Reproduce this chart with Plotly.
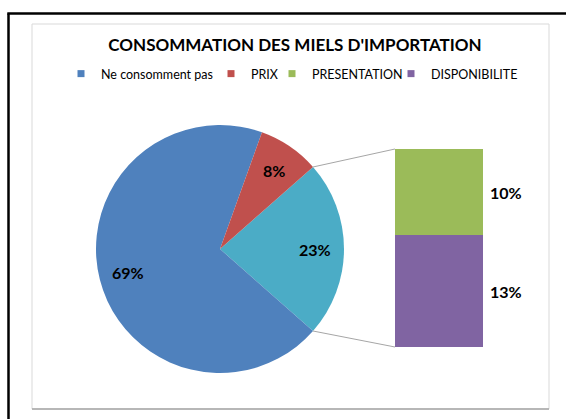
import math
import plotly.graph_objects as go

# ---- data ----
title_text = "CONSOMMATION DES MIELS D'IMPORTATION"
pie_labels = ["Autre", "Ne consomment pas", "PRIX"]
pie_values = [23, 69, 8]
pie_colors = ["#4BACC6", "#4F81BD", "#C0504D"]
bar_labels = ["DISPONIBILITE", "PRESENTATION"]      # bottom -> top
bar_values = [13, 10]
bar_colors = ["#8064A2", "#9BBB59"]
legend_labels = ["Ne consomment pas", "PRIX", "PRESENTATION", "DISPONIBILITE"]
legend_colors = ["#4F81BD", "#C0504D", "#9BBB59", "#8064A2"]

W, H = 566, 419
FONT = "Lato"

def fx(x):
    return x / W

def fy(y):
    return 1 - y / H

# layout geometry (pixels)
pcx, pcy, pr = 220, 249, 124
bx0, bx1, by0, by1 = 395, 483, 149, 347
legend_sq_x = [88, 238, 299, 418]   # legend symbol positions
legend_y = 74

total = sum(pie_values)
other_share = pie_values[0] / total
rotation = 90 - 360 * other_share / 2

fig = go.Figure()

fig.add_trace(go.Pie(
    labels=pie_labels, values=pie_values, sort=False,
    direction="clockwise", rotation=rotation,
    marker=dict(colors=pie_colors, line=dict(width=0)),
    textinfo="none",
    domain=dict(x=[fx(pcx - pr), fx(pcx + pr)], y=[fy(pcy + pr), fy(pcy - pr)]),
    showlegend=False, hoverinfo="label+percent",
))

cat = ["Autre"]
for lab, val, col in zip(bar_labels, bar_values, bar_colors):
    fig.add_trace(go.Bar(x=cat, y=[val], name=lab, marker=dict(color=col, line=dict(width=0)),
                         showlegend=False, xaxis="x", yaxis="y"))

legend_names = ["legend", "legend2", "legend3", "legend4"]
for lab, col, lg in zip(legend_labels, legend_colors, legend_names):
    fig.add_trace(go.Scatter(x=[None], y=[None], mode="markers", name=lab, legend=lg,
                             marker=dict(symbol="square", size=7, color=col),
                             xaxis="x", yaxis="y"))

annotations = []
# pie percentage labels
cum = 0
rr = 0.77 * pr
for val in pie_values:
    mid = cum + val / 2
    theta = math.radians(rotation + 360 * mid / total)
    px = pcx + rr * math.sin(theta)
    py = pcy - rr * math.cos(theta)
    annotations.append(dict(x=fx(px), y=fy(py), xref="paper", yref="paper",
                            text=f"<b>{round(100 * val / total)}%</b>", showarrow=False,
                            xanchor="center", yanchor="middle",
                            font=dict(family=FONT, size=16, color="#000000")))
    cum += val

# bar labels
bar_total = sum(bar_values)
cum = 0
for val in bar_values:
    annotations.append(dict(x=0.5, y=cum + val / 2, xref="x", yref="y", text=f"<b>{val}%</b>",
                            showarrow=False, xanchor="left", yanchor="middle", xshift=5,
                            font=dict(family=FONT, size=16, color="#000000")))
    cum += val

# connector points on the pie
half = math.radians(360 * other_share / 2)
up_pt = (pcx + pr * math.cos(half), pcy - pr * math.sin(half))
dn_pt = (pcx + pr * math.cos(half), pcy + pr * math.sin(half))

shapes = [
    # outer dark frame
    dict(type="line", xref="paper", yref="paper", x0=fx(8.5), y0=0, x1=fx(8.5), y1=fy(13.5),
         line=dict(color="#000000", width=2.5)),
    dict(type="line", xref="paper", yref="paper", x0=fx(7.3), y0=fy(13.5), x1=1, y1=fy(13.5),
         line=dict(color="#000000", width=2.5)),
    # chart area box
    dict(type="rect", xref="paper", yref="paper", x0=fx(32), y0=fy(409), x1=fx(549), y1=fy(24),
         line=dict(color="#D9D9D9", width=1), layer="below"),
    dict(type="line", xref="paper", yref="paper", x0=fx(32), y0=fy(409), x1=fx(549), y1=fy(409),
         line=dict(color="#A6A6A6", width=1.5)),
    # connectors
    dict(type="line", xref="paper", yref="paper", x0=fx(up_pt[0]), y0=fy(up_pt[1]), x1=fx(bx0), y1=fy(by0),
         line=dict(color="#A6A6A6", width=1)),
    dict(type="line", xref="paper", yref="paper", x0=fx(dn_pt[0]), y0=fy(dn_pt[1]), x1=fx(bx0), y1=fy(by1),
         line=dict(color="#A6A6A6", width=1)),
]

legends = {}
for lg, sx in zip(legend_names, legend_sq_x):
    legends[lg] = dict(orientation="h", x=fx(sx - 7 - 20), xanchor="left", y=fy(legend_y), yanchor="middle",
                       font=dict(family=FONT, size=12.5, color="#000000"), bgcolor="rgba(0,0,0,0)",
                       itemwidth=30, borderwidth=0)

fig.update_layout(
    width=W, height=H,
    margin=dict(l=0, r=0, t=0, b=0),
    paper_bgcolor="#FFFFFF", plot_bgcolor="rgba(0,0,0,0)",
    title=dict(text=f"<b>{title_text}</b>", x=fx(295), xanchor="center", y=fy(45), yanchor="middle",
               yref="container", font=dict(family=FONT, size=17, color="#000000")),
    barmode="stack", bargap=0,
    xaxis=dict(domain=[fx(bx0), fx(bx1)], range=[-0.5, 0.5], visible=False, fixedrange=True),
    yaxis=dict(domain=[fy(by1), fy(by0)], range=[0, bar_total], visible=False, fixedrange=True),
    annotations=annotations, shapes=shapes, showlegend=True,
    **legends,
)

fig.write_html("out.html", config={"displayModeBar": False},
               post_script="document.body.style.margin='0';document.body.style.padding='0';")
